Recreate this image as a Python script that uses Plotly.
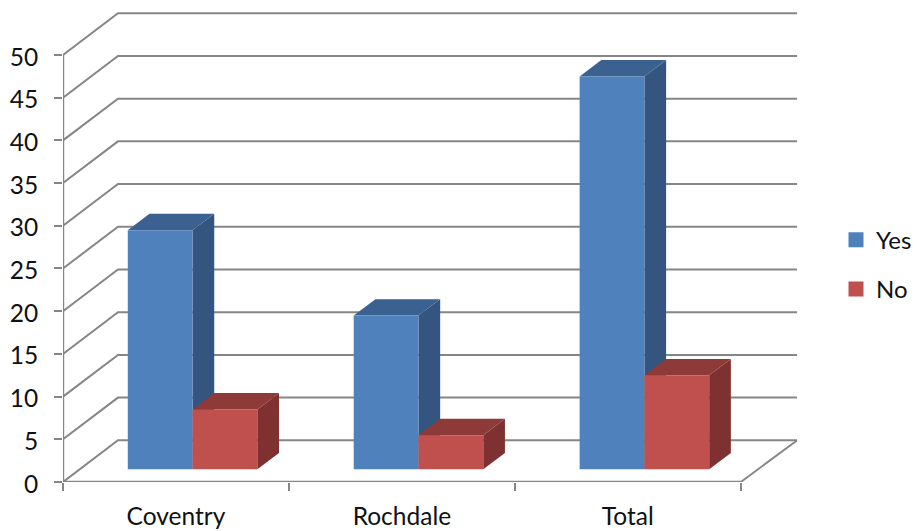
import plotly.graph_objects as go

categories = ["Coventry", "Rochdale", "Total"]
yes_values = [28, 18, 46]
no_values = [7, 4, 11]
y_ticks = [0, 5, 10, 15, 20, 25, 30, 35, 40, 45, 50]

# Oblique projection: how far the wall, floor and bars recede, in axis units
WALL_DX, WALL_DY = 0.2433, 4.88
FLOOR_END_DX = 0.25
FLOOR_DX, FLOOR_DY = 0.0733, 1.487
BAR_DX, BAR_DY = 0.096, 1.92
BAR_WIDTH = 0.2867
GAP = 0.2134

GRID = "#868686"
TEXT = "#111111"
FONT = "Lato"
FONT_SIZE = 24.5

fig = go.Figure()


def polyline(xs, ys, width=2):
    fig.add_trace(go.Scatter(x=xs, y=ys, mode="lines", showlegend=False, hoverinfo="skip",
                             line=dict(color=GRID, width=width)))


def face(xs, ys, color):
    fig.add_trace(go.Scatter(x=xs + xs[:1], y=ys + ys[:1], mode="lines", fill="toself",
                             fillcolor=color, line=dict(width=0), showlegend=False,
                             hoverinfo="skip"))


def bar3d(x0, value, front, top, side):
    x1 = x0 + BAR_WIDTH
    y0 = FLOOR_DY
    y1 = FLOOR_DY + value
    face([x1, x1 + BAR_DX, x1 + BAR_DX, x1], [y0, y0 + BAR_DY, y1 + BAR_DY, y1], side)
    face([x0, x1, x1 + BAR_DX, x0 + BAR_DX], [y1, y1, y1 + BAR_DY, y1 + BAR_DY], top)
    face([x0, x1, x1, x0], [y0, y0, y1, y1], front)


n = len(categories)

# Left wall and back wall gridlines
for v in y_ticks:
    polyline([0, WALL_DX, n + FLOOR_END_DX], [v, v + WALL_DY, v + WALL_DY])

# Right edge of the floor, then the two front axis lines
polyline([n, n + FLOOR_END_DX], [0, WALL_DY])
polyline([0, n], [0, 0], 2.4)
polyline([0, 0], [y_ticks[0], y_ticks[-1]], 2.4)

for i in range(n):
    start = i + GAP + FLOOR_DX
    bar3d(start, yes_values[i], "#4F81BD", "#3A6190", "#345580")
    bar3d(start + BAR_WIDTH, no_values[i], "#C0504D", "#8E3A38", "#7E3130")

# Legend swatches
for name, color in [("Yes", "#4F81BD"), ("No", "#C0504D")]:
    fig.add_trace(go.Scatter(x=[None], y=[None], mode="markers", name=name, legendgroup=name,
                             marker=dict(symbol="square", size=15, color=color)))

fig.update_layout(
    width=917,
    height=531,
    autosize=False,
    paper_bgcolor="white",
    plot_bgcolor="white",
    margin=dict(l=62.5, r=0, t=10, b=48.5, pad=0),
    font=dict(family=FONT, size=FONT_SIZE, color=TEXT),
    legend=dict(x=0.9052, xanchor="left", y=0.4603, yanchor="middle", tracegroupgap=15,
                font=dict(size=24), itemwidth=30, entrywidth=36,
                entrywidthmode="pixels", bgcolor="rgba(0,0,0,0)"),
    xaxis=dict(
        automargin=False,
        domain=[0, 734.7 / 854.5],
        range=[0, n + FLOOR_END_DX],
        showgrid=False,
        zeroline=False,
        showline=False,
        tickmode="array",
        tickvals=[i + 0.5 for i in range(n)],
        ticktext=categories,
        ticks="",
        ticklabelstandoff=17,
        minor=dict(tickmode="array", tickvals=list(range(n + 1)), ticks="outside",
                   ticklen=8, tickcolor=GRID, tickwidth=2, showgrid=False),
    ),
    yaxis=dict(
        automargin=False,
        range=[0, 55.26],
        showgrid=False,
        zeroline=False,
        showline=False,
        tickmode="array",
        tickvals=y_ticks,
        ticks="outside",
        ticklen=8,
        tickcolor=GRID,
        tickwidth=2,
        ticklabelstandoff=11,
        ticklabelshift=2,
    ),
)

fig.write_html("out.html")
